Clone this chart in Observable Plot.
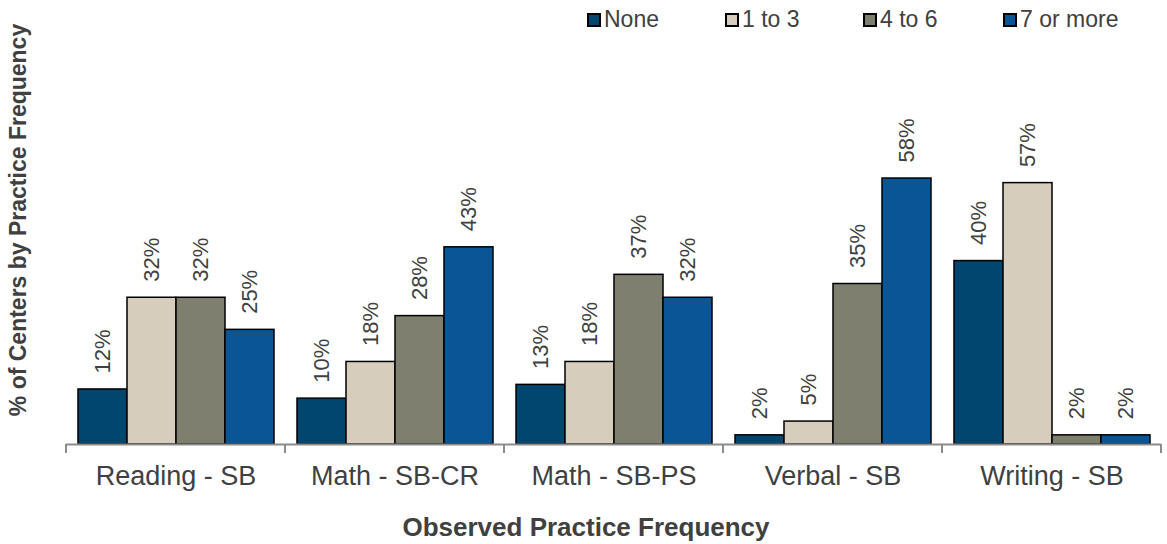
<!DOCTYPE html>
<html>
<head>
<meta charset="utf-8">
<script src="https://cdn.jsdelivr.net/npm/d3@7"></script>
<script src="https://cdn.jsdelivr.net/npm/@observablehq/plot@0.6"></script>
<style>
  html, body { margin: 0; padding: 0; background: #fff; }
  #wrap { position: relative; width: 1167px; height: 544px; font-family: "Liberation Sans", Arial, sans-serif; color: #404040; }
  #wrap svg { position: absolute; left: 0; top: 0; }
  #legend { position: absolute; left: 587px; top: 7px; display: flex; font-size: 23px; line-height: 25px; }
  #legend .item { display: flex; align-items: center; width: 138px; }
  #legend .item:nth-child(3) { width: 140px; }
  #legend .sw { width: 10px; height: 10px; border: 2px solid #000; margin-right: 3px; }
  #ytitle { position: absolute; left: 18px; top: 220px; transform: translate(-50%, -50%) rotate(-90deg); white-space: nowrap; font-weight: bold; font-size: 23px; }
  #xtitle { position: absolute; left: 586px; top: 527px; transform: translate(-50%, -50%); white-space: nowrap; font-weight: bold; font-size: 26px; }
</style>
</head>
<body>
<div id="wrap">
  <div id="legend"></div>
  <div id="ytitle"></div>
  <div id="xtitle"></div>
</div>
<script>
const categories = ["Reading - SB", "Math - SB-CR", "Math - SB-PS", "Verbal - SB", "Writing - SB"];
const series = ["None", "1 to 3", "4 to 6", "7 or more"];
const noneValues = [12, 10, 13, 2, 40];
const oneToThreeValues = [32, 18, 18, 5, 57];
const fourToSixValues = [32, 28, 37, 35, 2];
const sevenPlusValues = [25, 43, 32, 58, 2];
const colors = ["#01466F", "#D7CDBD", "#7E7F6E", "#0A5595"];
const yTitle = "% of Centers by Practice Frequency";
const xTitle = "Observed Practice Frequency";

const seriesValues = [noneValues, oneToThreeValues, fourToSixValues, sevenPlusValues];
const data = [];
categories.forEach((c, i) => {
  series.forEach((s, j) => data.push({category: c, series: s, value: seriesValues[j][i]}));
});

const plot = Plot.plot({
  width: 1167,
  height: 544,
  marginLeft: 64,
  marginRight: 5,
  marginTop: 123,
  marginBottom: 100,
  style: {fontFamily: "'Liberation Sans', Arial, sans-serif", color: "#404040", background: "transparent"},
  fx: {domain: categories, padding: 0, label: null},
  x: {domain: series, paddingInner: 0, paddingOuter: 0.23, axis: null},
  y: {domain: [0, 70], axis: null},
  color: {domain: series, range: colors},
  marks: [
    Plot.barY(data, {fx: "category", x: "series", y: "value", fill: "series", stroke: "#000", strokeWidth: 1.5}),
    Plot.text(data, {fx: "category", x: "series", y: "value", text: d => d.value + "%", rotate: -90, textAnchor: "start", lineAnchor: "middle", dy: -16, fontSize: 22, fill: "#404040"}),
    Plot.ruleY([0], {stroke: "#8c8c8c", strokeWidth: 2}),
    Plot.axisFx({anchor: "bottom", tickSize: 0, tickPadding: 21, fontSize: 27, label: null})
  ]
});
document.getElementById("wrap").appendChild(plot);

// group boundary ticks on the category axis, from the fx scale
const fx = plot.scale("fx");
const yS = plot.scale("y");
const bw = fx.bandwidth;
const y0 = yS.apply(0);
const bounds = categories.map(c => fx.apply(c)).concat([fx.apply(categories[categories.length - 1]) + bw]);
d3.select(plot).append("g")
  .selectAll("line").data(bounds).join("line")
  .attr("x1", d => d).attr("x2", d => d)
  .attr("y1", y0).attr("y2", y0 + 9)
  .attr("stroke", "#8c8c8c").attr("stroke-width", 2);

// legend
const legend = d3.select("#legend");
series.forEach((s, i) => {
  const it = legend.append("div").attr("class", "item");
  it.append("div").attr("class", "sw").style("background", colors[i]);
  it.append("span").text(s);
});
document.getElementById("ytitle").textContent = yTitle;
document.getElementById("xtitle").textContent = xTitle;
</script>
</body>
</html>
